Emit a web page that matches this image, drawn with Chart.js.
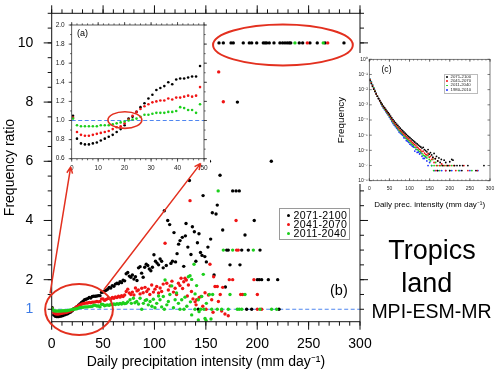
<!DOCTYPE html>
<html><head><meta charset="utf-8">
<script src="https://cdn.jsdelivr.net/npm/chart.js@4/dist/chart.umd.min.js"></script>
<style>
html,body{margin:0;padding:0;background:#fff;}
#wrap{position:relative;width:500px;height:375px;overflow:hidden;font-family:"Liberation Sans",Arial,Helvetica,sans-serif;}
canvas{position:absolute;}
.t{position:absolute;white-space:nowrap;color:#000;line-height:1;}
.lg{position:absolute;border:1px solid #9a9a9a;background:#fff;box-sizing:border-box;}
.dot{position:absolute;border-radius:50%;}
</style></head>
<body><div id="wrap">
<canvas id="cMain" width="500" height="375" style="left:0;top:0"></canvas>
<canvas id="cA" width="157" height="158" style="left:53px;top:18px"></canvas>
<canvas id="cC" width="170" height="160" style="left:330px;top:53px"></canvas>

<div class="t" style="left:77px;top:29px;font-size:9px">(a)</div>
<div class="t" style="left:381.5px;top:64.7px;font-size:8.6px">(c)</div>
<div class="t" style="left:330px;top:282.7px;font-size:14.5px">(b)</div>
<div class="t" style="left:0;width:864px;text-align:center;top:237.2px;font-size:27px">Tropics</div>
<div class="t" style="left:0;width:853.5px;text-align:center;top:270.4px;font-size:27px">land</div>
<div class="t" style="left:0;width:863px;text-align:center;top:301.8px;font-size:19.5px">MPI-ESM-MR</div>

<div class="lg" style="left:279px;top:208px;width:70.5px;height:31.5px"></div>
<div id="legB"></div>
<div class="lg" style="left:444px;top:74px;width:33.5px;height:20px;border-color:#bbb"></div>
<div id="legC"></div>

<canvas id="cOver" width="500" height="375" style="left:0;top:0;pointer-events:none"></canvas>
</div>
<script>
// ---------------- DATA ----------------
// Panel (b)/(a): frequency ratio vs daily precipitation intensity (mm/day)
const binX = [0.5,2.0,3.5,5.0,6.5,8.0,9.5,11.0,12.5,14.0,15.5,17.0,18.5,20.0,21.5,23.0,24.5,26.0,27.5,29.0,30.5,32.0,33.5,35.0,36.5,38.0,39.5,41.0,42.5,44.0,45.5,47.0,48.5];
const ratio2071 = [1.05,0.81,0.76,0.75,0.75,0.76,0.77,0.79,0.81,0.83,0.85,0.88,0.91,0.95,1.02,1.04,1.09,1.14,1.18,1.23,1.27,1.32,1.34,1.36,1.40,1.38,1.43,1.44,1.44,1.45,1.46,1.46,1.57];
const ratio2041 = [1.03,0.88,0.85,0.84,0.84,0.85,0.86,0.87,0.88,0.89,0.91,0.93,0.94,0.97,1.01,1.05,1.09,1.12,1.15,1.17,1.19,1.20,1.21,1.21,1.23,1.22,1.24,1.24,1.25,1.26,1.25,1.26,1.35];
const ratio2011 = [1.02,0.95,0.94,0.94,0.94,0.94,0.94,0.95,0.95,0.95,0.96,0.97,0.98,0.99,1.00,1.01,1.02,1.04,1.06,1.06,1.07,1.08,1.08,1.08,1.09,1.09,1.10,1.14,1.13,1.11,1.11,1.08,1.17];

const tailX2071 = [50.0,51.5,53.0,54.5,56.0,57.5,59.0,60.5,62.0,63.5,65.0,66.5,68.0,69.5,71.0,72.5,74.0,75.5,77.0,78.5,80.0,81.5,83.0,84.5,86.0,87.5,89.0,90.5,92.0,93.5,95.0,96.5,98.0,99.5,101.0,102.5,104.0,105.5,107.0,108.5,109.6,111.5,112.9,114.8,116.0,117.5,119.0,120.5,122.0,123.5,124.9,127.1,128.5,130.1,130.7,132.5,134.0,135.5,136.9,138.8,140.3,141.8,142.7,143.3,144.8,146.3,147.3,149.0,150.5,152.0,153.4,154.7,156.3,158.0,159.9,161.1,163.8,166.4,169.0,170.3,171.8,173.5,176.1,179.4,180.7,182.5,183.2,184.9,188.1,189.7,191.3,194.6,197.1,200.1,202.0,202.7,204.3,210.8,213.7,219.9,221.2];
const tailY2071 = [1.58,1.62,1.64,1.68,1.74,1.72,1.80,1.78,1.85,1.88,1.86,1.93,1.90,1.98,1.96,2.20,2.24,2.12,2.08,2.16,2.02,2.10,1.97,2.40,2.44,2.22,2.08,2.42,2.52,2.48,2.36,2.30,2.42,2.84,2.62,2.56,2.50,2.70,2.62,2.40,4.33,2.48,4.00,3.86,2.55,2.62,3.59,2.60,2.88,3.20,3.32,3.43,2.45,3.48,3.90,3.10,5.35,2.85,3.79,3.62,2.62,3.25,1.00,3.55,2.92,2.82,4.84,2.78,2.60,3.10,6.00,3.37,4.26,2.16,4.22,4.52,5.53,3.68,1.75,3.00,3.00,2.50,5.00,5.00,8.00,5.00,2.50,3.00,3.51,1.00,3.00,1.00,4.00,2.00,2.00,3.00,2.00,2.00,6.00,2.00,1.00];
const tailX2041 = [50.0,51.5,53.0,54.5,56.0,57.5,59.0,60.5,62.0,63.5,65.0,66.5,68.0,69.5,71.0,72.5,74.0,75.5,77.0,78.5,80.0,81.5,83.0,84.3,86.0,87.6,89.0,90.8,92.5,94.0,95.5,97.3,99.0,100.5,102.2,104.0,105.5,107.0,108.5,110.3,112.0,113.5,115.2,117.0,118.5,120.1,121.5,123.3,124.8,125.9,127.4,128.5,129.7,131.0,132.0,133.0,134.6,136.0,137.5,139.5,140.5,141.0,143.5,145.3,147.0,149.2,150.2,152.5,154.0,155.7,157.0,157.6,158.9,161.1,162.2,164.0,165.4,166.4,168.6,171.8,172.8,176.1,179.4,179.9,181.5,183.9,185.9,196.8,200.1,200.1,204.3,162.5,167.0];
const tailY2041 = [1.35,1.30,1.33,1.36,1.37,1.34,1.40,1.37,1.42,1.40,1.44,1.41,1.46,1.43,1.48,1.60,1.68,1.55,1.50,1.58,1.48,1.72,1.62,1.65,1.52,1.71,1.56,1.74,1.60,1.68,1.50,1.82,1.58,1.68,1.77,1.55,1.72,1.60,1.85,3.23,1.88,1.65,1.79,1.95,1.58,1.71,1.50,1.88,1.80,2.05,1.70,1.93,2.05,1.99,1.45,1.82,4.67,1.60,1.35,1.25,1.15,1.32,1.40,1.43,1.10,1.56,1.00,1.48,2.52,1.32,0.90,2.10,1.77,1.77,1.26,1.50,0.94,1.74,0.84,0.78,2.00,2.00,4.00,3.00,3.00,1.50,1.50,2.00,1.50,1.00,1.00,9.02,8.01];
const tailX2011 = [50.0,51.5,53.0,54.5,56.0,57.5,59.0,60.5,62.0,63.5,65.0,66.5,68.0,69.5,71.0,72.5,74.0,76.2,77.5,79.5,81.0,82.7,84.5,86.0,87.6,89.2,91.0,92.4,94.0,95.7,97.5,98.9,100.5,102.2,104.0,105.4,107.0,108.6,109.6,110.3,112.0,113.5,115.0,116.8,118.5,120.1,121.5,123.3,124.8,126.5,128.7,129.7,131.5,133.0,134.6,135.0,136.2,136.2,138.5,139.4,139.5,141.0,142.7,142.7,145.0,146.0,147.5,148.2,149.2,150.5,153.4,155.0,155.7,156.6,161.1,162.0,165.4,167.0,171.8,173.5,176.1,180.6,182.5,184.9,188.1,196.2,202.7,214.0,218.9,143.4,150.2];
const tailY2011 = [1.16,1.12,1.14,1.15,1.13,1.17,1.15,1.18,1.16,1.19,1.17,1.20,1.18,1.22,1.19,1.20,1.25,1.32,1.20,1.37,1.22,1.26,1.18,1.37,1.00,1.20,1.30,1.32,1.15,1.26,1.10,1.34,1.05,1.20,1.45,1.32,1.08,1.43,1.00,1.99,1.15,1.26,1.50,1.79,1.05,1.32,1.55,1.20,1.00,1.32,1.00,1.41,1.10,2.10,2.13,1.25,2.01,0.81,2.52,1.00,1.52,1.80,0.64,1.32,1.00,1.43,2.18,1.00,0.69,1.20,1.50,0.67,1.00,1.50,1.00,5.00,1.00,3.00,1.00,1.50,3.00,1.00,1.00,1.00,1.50,3.00,1.00,1.00,1.00,0.92,0.62];
// bins where the ratio is capped at 10
const capRatio = 10;
const capX2071 = [162.8,167.0,174.5,176.7,186.4,192.3,194.6,199.5,205.9,207.6,209.2,211.7,216.3,222.1,224.7,227.0,229.2,231.2,232.6,240.9,244.2,251.3,258.4,266.0,284.4];
const capX2041 = [248.7,268.6];
const capX2011 = [236.7,264.2];

// Panel (c): frequency (log10 of frequency) vs intensity
const freqX = [0,2,5,8,11,14,17,20,23,26,29,32,35,38,41,44,47,50,53,56,59,62,65,68,71,74,77,80,83,86,89,92,95,98,101,104,107,110,113,116,119,122,125,128,131,134,137,140];
const logFreq2071 = [-0.07,-1.40,-1.60,-1.79,-1.97,-2.13,-2.29,-2.44,-2.58,-2.71,-2.84,-2.96,-3.08,-3.19,-3.30,-3.41,-3.51,-3.62,-3.74,-3.86,-3.97,-4.07,-4.17,-4.27,-4.36,-4.45,-4.54,-4.63,-4.71,-4.79,-4.87,-4.95,-5.03,-5.10,-5.17,-5.24,-5.31,-5.38,-5.45,-5.52,-5.58,-5.65,-5.72,-5.78,-5.85,-5.80,-5.95,-6.02];
const logFreq2041 = [-0.07,-1.36,-1.55,-1.74,-1.93,-2.10,-2.27,-2.43,-2.59,-2.73,-2.87,-3.00,-3.13,-3.24,-3.36,-3.47,-3.57,-3.70,-3.83,-3.96,-4.08,-4.19,-4.29,-4.39,-4.49,-4.59,-4.68,-4.76,-4.85,-4.94,-5.00,-5.11,-5.18,-5.25,-5.34,-5.40,-5.49,-5.55,-5.62,-5.70,-5.79,-5.85,-5.93,-5.98,-6.08,-6.05,-6.18,-6.26];
const logFreq2011 = [-0.07,-1.33,-1.51,-1.70,-1.89,-2.07,-2.24,-2.42,-2.59,-2.75,-2.90,-3.04,-3.17,-3.29,-3.41,-3.52,-3.63,-3.76,-3.89,-4.03,-4.15,-4.26,-4.36,-4.47,-4.57,-4.69,-4.77,-4.85,-4.93,-5.06,-5.10,-5.22,-5.29,-5.37,-5.46,-5.52,-5.61,-5.67,-5.80,-5.82,-5.95,-5.98,-6.08,-6.10,-6.22,-6.32,-6.37,-6.40];
const logFreq1980 = [-0.07,-1.31,-1.48,-1.67,-1.87,-2.05,-2.23,-2.42,-2.60,-2.77,-2.93,-3.08,-3.21,-3.33,-3.46,-3.57,-3.67,-3.82,-3.95,-4.10,-4.23,-4.34,-4.44,-4.55,-4.65,-4.79,-4.86,-4.94,-5.01,-5.17,-5.19,-5.35,-5.40,-5.48,-5.59,-5.64,-5.73,-5.78,-6.05,-5.93,-6.14,-6.11,-6.24,-6.17,-6.39,-6.53,-6.53,-6.44];
const tailFX2071 = [143,146,149,152,155,158,161,164,167,170,173,176,179,182,186,190,195,200,205,208,212,218,225,232,245,285,170,200,230,265];
const tailFL2071 = [-6.10,-5.95,-6.25,-6.15,-6.30,-6.45,-6.20,-6.55,-6.40,-6.70,-6.50,-6.80,-6.60,-7.00,-6.65,-6.80,-7.00,-6.75,-6.60,-6.65,-7.00,-7.00,-7.00,-7.00,-7.00,-7.00,-7.33,-7.33,-7.33,-7.33];
const tailFX2041 = [143,146,149,152,155,158,161,164,167,170,175,180,185,192,200,210,235,166,190,215,245,268];
const tailFL2041 = [-6.30,-6.20,-6.45,-6.40,-6.60,-6.50,-6.80,-6.55,-7.00,-6.70,-7.00,-6.90,-7.00,-7.00,-7.00,-7.00,-7.00,-7.33,-7.33,-7.33,-7.33,-7.33];
const tailFX2011 = [143,146,149,152,155,158,161,165,170,178,188,196,205,160,175,200,222,255];
const tailFL2011 = [-6.50,-6.35,-6.60,-6.70,-7.00,-6.60,-7.00,-6.80,-7.00,-7.00,-7.00,-7.00,-7.00,-7.33,-7.33,-7.33,-7.33,-7.33];
const tailFX1980 = [143,146,150,155,163,170,180,190,205,225,250,270];
const tailFL1980 = [-6.70,-7.00,-6.80,-7.00,-7.33,-7.33,-7.33,-7.33,-7.33,-7.33,-7.33,-7.33];

// tick labels
const mainXTicks = [0,50,100,150,200,250,300];
const mainYTicks = [1,2,4,6,8,10];
const insetAXTicks = [0,10,20,30,40,50];
const insetAYTicks = [0.6,0.8,1.0,1.2,1.4,1.6,1.8,2.0];
const insetCXTicks = [0,50,100,150,200,250,300];
const insetCYTicks = [1e-8,1e-7,1e-6,1e-5,1e-4,1e-3,1e-2,1e-1,1];
const seriesNames = ['2071-2100','2041-2070','2011-2040','1980-2010'];

// ---------------- STYLE ----------------
const FONT = '"Liberation Sans", Arial, Helvetica, sans-serif';
const COL = {k:'#000000', r:'#f01414', g:'#1ccf1c', b:'#2233ff'};
const BLUE_LINE = '#4f86f0';
const RED_ANN = '#e3301f';

const pairs = (xs, ys) => xs.map((x,i)=>({x, y: ys[i]}));
const capPairs = xs => xs.map(x=>({x, y: capRatio}));
const logPairs = (xs, ls) => xs.map((x,i)=>({x, y: Math.pow(10, ls[i])}));
const range = (a,b,s) => { const r=[]; for (let v=a; v<=b+1e-9; v+=s) r.push(+v.toFixed(6)); return r; };
const SUP = {'0':'⁰','1':'¹','2':'²','3':'³','4':'⁴','5':'⁵','6':'⁶','7':'⁷','8':'⁸','9':'⁹','-':'⁻'};
const supText = n => String(n).split('').map(c=>SUP[c]).join('');
// fixed-size axis boxes; label overflow padding is not needed (labels sit inside)
const fixW = w => s => { s.width = w; s.paddingTop = 0; s.paddingBottom = 0; };
const fixH = h => s => { s.height = h; s.paddingLeft = 0; s.paddingRight = 0; };

function drawFrame(chart, s){
  const {ctx, chartArea:a} = chart; const xs = chart.scales.x, ys = chart.scales.y;
  ctx.save(); ctx.strokeStyle = s.color; ctx.lineWidth = s.lw;
  ctx.strokeRect(a.left, a.top, a.right-a.left, a.bottom-a.top);
  const d = s.outward ? 1 : -1;
  ctx.beginPath();
  const addX = (v,L)=>{ const p = xs.getPixelForValue(v); ctx.moveTo(p,a.bottom); ctx.lineTo(p,a.bottom+d*L); ctx.moveTo(p,a.top); ctx.lineTo(p,a.top-d*L); };
  const addY = (v,L)=>{ const p = ys.getPixelForValue(v); ctx.moveTo(a.left,p); ctx.lineTo(a.left-d*L,p); ctx.moveTo(a.right,p); ctx.lineTo(a.right+d*L,p); };
  s.xMinor.forEach(v=>addX(v,s.minLen)); s.xMajor.forEach(v=>addX(v,s.majLen));
  s.yMinor.forEach(v=>addY(v,s.minLen)); s.yMajor.forEach(v=>addY(v,s.majLen));
  ctx.stroke(); ctx.restore();
}
function hLineDashed(chart, yv){
  const {ctx, chartArea:a} = chart; const p = chart.scales.y.getPixelForValue(yv);
  ctx.save(); ctx.strokeStyle = BLUE_LINE; ctx.lineWidth = 1.2; ctx.setLineDash([4,2.5]);
  ctx.beginPath(); ctx.moveTo(a.left, p); ctx.lineTo(a.right, p); ctx.stroke(); ctx.restore();
}
const noGrid = {display:false, drawTicks:false};
const scatterDs = (label, data, color, r, order) => ({label, data, backgroundColor:color, borderColor:color, borderWidth:0, pointRadius:r, pointHoverRadius:r, order});
const baseOpts = {responsive:false, animation:false, events:[], plugins:{legend:{display:false}, tooltip:{enabled:false}}};

// ---------------- MAIN (b) ----------------
const mainChart = new Chart(document.getElementById('cMain'), {
  type:'scatter',
  data:{datasets:[
    scatterDs(seriesNames[2], pairs(binX.concat(tailX2011), ratio2011.concat(tailY2011)).concat(capPairs(capX2011)), COL.g, 1.7, 0),
    scatterDs(seriesNames[1], pairs(binX.concat(tailX2041), ratio2041.concat(tailY2041)).concat(capPairs(capX2041)), COL.r, 1.7, 1),
    scatterDs(seriesNames[0], pairs(binX.concat(tailX2071), ratio2071.concat(tailY2071)).concat(capPairs(capX2071)), COL.k, 1.7, 2)
  ]},
  options:{...baseOpts,
    layout:{padding:{top:13.3, right:140, left:0, bottom:0}},
    scales:{
      x:{type:'linear', min:0, max:300, afterFit:fixH(53.3),
        afterBuildTicks(s){ s.ticks = mainXTicks.map(v=>({value:v})); },
        ticks:{autoSkip:false, maxRotation:0, padding:14, color:'#000', font:{family:FONT,size:14}, callback:v=>String(v)},
        grid:noGrid, border:{display:false},
        title:{display:true, text:'Daily precipitation intensity (mm day⁻¹)', color:'#000', font:{family:FONT,size:14}, padding:{top:0,bottom:4.6}}},
      y:{type:'linear', min:0.58, max:11, afterFit:fixW(51.7),
        afterBuildTicks(s){ s.ticks = mainYTicks.map(v=>({value:v})); },
        ticks:{autoSkip:false, padding:18.5, font:{family:FONT,size:14}, color:c=>(c.tick && c.tick.value===1)?'#3d7be6':'#000', callback:v=>String(v)},
        grid:noGrid, border:{display:false},
        title:{display:true, text:'Frequency ratio', color:'#000', font:{family:FONT,size:14}, padding:{top:2,bottom:0}}}
    }
  },
  plugins:[{id:'mainDeco',
    beforeDatasetsDraw(c){ hLineDashed(c, 1); },
    afterDraw(c){ drawFrame(c, {color:'#111', lw:1, outward:true, majLen:8, minLen:4,
      xMajor:mainXTicks, xMinor:range(0,300,10), yMajor:[2,4,6,8,10], yMinor:range(1,11,0.5)}); }
  }]
});

// ---------------- INSET (a) ----------------
const chartA = new Chart(document.getElementById('cA'), {
  type:'scatter',
  data:{datasets:[
    scatterDs(seriesNames[2], pairs(binX, ratio2011), COL.g, 1.3, 0),
    scatterDs(seriesNames[1], pairs(binX, ratio2041), COL.r, 1.3, 1),
    scatterDs(seriesNames[0], pairs(binX, ratio2071), COL.k, 1.3, 2)
  ]},
  options:{...baseOpts,
    layout:{padding:{top:7, right:6, left:0, bottom:0}},
    scales:{
      x:{type:'linear', min:0, max:50, afterFit:fixH(17.3),
        afterBuildTicks(s){ s.ticks = insetAXTicks.map(v=>({value:v})); },
        ticks:{autoSkip:false, maxRotation:0, padding:5.5, color:'#222', font:{family:FONT,size:6.5}, callback:v=>String(v)},
        grid:noGrid, border:{display:false}},
      y:{type:'linear', min:0.6, max:2.0, afterFit:fixW(18.7),
        afterBuildTicks(s){ s.ticks = insetAYTicks.map(v=>({value:v})); },
        ticks:{autoSkip:false, padding:7, color:'#222', font:{family:FONT,size:6.5}, callback:v=>Number(v).toFixed(1)},
        grid:noGrid, border:{display:false}}
    }
  },
  plugins:[{id:'aDeco',
    beforeDraw(c){ const ctx=c.ctx; ctx.save(); ctx.fillStyle='#fff'; ctx.fillRect(0,0,c.width,c.height); ctx.restore(); },
    beforeDatasetsDraw(c){ hLineDashed(c, 1.0); },
    afterDraw(c){
      drawFrame(c, {color:'#333', lw:0.8, outward:true, majLen:3, minLen:1.6,
        xMajor:insetAXTicks, xMinor:range(0,50,2), yMajor:insetAYTicks, yMinor:range(0.6,2.0,0.1)});
      const xs=c.scales.x, ys=c.scales.y, ctx=c.ctx;
      const cx=xs.getPixelForValue(20.1), cy=ys.getPixelForValue(1.005);
      const rx=xs.getPixelForValue(26.5)-xs.getPixelForValue(20.1), ry=ys.getPixelForValue(1.005)-ys.getPixelForValue(1.092);
      ctx.save(); ctx.strokeStyle=RED_ANN; ctx.lineWidth=1.6; ctx.beginPath(); ctx.ellipse(cx,cy,rx,ry,0,0,2*Math.PI); ctx.stroke(); ctx.restore();
    }
  }]
});

// ---------------- INSET (c) ----------------
const chartC = new Chart(document.getElementById('cC'), {
  type:'scatter',
  data:{datasets:[
    scatterDs(seriesNames[0], logPairs(freqX.concat(tailFX2071), logFreq2071.concat(tailFL2071)), COL.k, 0.9, 0),
    scatterDs(seriesNames[1], logPairs(freqX.concat(tailFX2041), logFreq2041.concat(tailFL2041)), COL.r, 0.9, 1),
    scatterDs(seriesNames[2], logPairs(freqX.concat(tailFX2011), logFreq2011.concat(tailFL2011)), COL.g, 0.9, 2),
    scatterDs(seriesNames[3], logPairs(freqX.concat(tailFX1980), logFreq1980.concat(tailFL1980)), COL.b, 0.9, 3)
  ]},
  options:{...baseOpts,
    layout:{padding:{top:6.3, right:10, left:0, bottom:0}},
    scales:{
      x:{type:'linear', min:0, max:300, afterFit:fixH(32.3),
        afterBuildTicks(s){ s.ticks = insetCXTicks.map(v=>({value:v})); },
        ticks:{autoSkip:false, maxRotation:0, padding:5, color:'#222', font:{family:FONT,size:5}, callback:v=>String(v)},
        grid:noGrid, border:{display:false},
        title:{display:true, text:'Daily prec. intensity (mm day⁻¹)', color:'#000', font:{family:FONT,size:8}, padding:{top:0,bottom:3.2}}},
      y:{type:'logarithmic', min:1e-8, max:1, afterFit:fixW(39.3),
        afterBuildTicks(s){ s.ticks = insetCYTicks.map(v=>({value:v})); },
        ticks:{autoSkip:false, padding:1.5, color:'#222', font:{family:FONT,size:5}, callback:v=>'10'+supText(Math.round(Math.log10(v)))},
        grid:noGrid, border:{display:false},
        title:{display:true, text:'Frequency', color:'#000', font:{family:FONT,size:9.8}, padding:{top:5,bottom:0}}}
    }
  },
  plugins:[{id:'cDeco',
    beforeDraw(c){ const ctx=c.ctx; ctx.save(); ctx.fillStyle='#fff'; ctx.fillRect(0,0,c.width,131); ctx.restore(); },
    afterDraw(c){ drawFrame(c, {color:'#444', lw:0.7, outward:false, majLen:2.5, minLen:1.2,
      xMajor:insetCXTicks, xMinor:range(0,300,10), yMajor:insetCYTicks, yMinor:[]}); }
  }]
});

// ---------------- LEGENDS (HTML) ----------------
(function(){
  const wrap = document.getElementById('wrap');
  const cols = [COL.k, COL.r, COL.g, COL.b];
  for (let i=0;i<3;i++){
    const cy = 215.3 + i*9.2;
    const d = document.createElement('div'); d.className='dot';
    d.style.cssText = `left:${288.3-1.6}px;top:${cy-1.6}px;width:3.2px;height:3.2px;background:${cols[i]}`;
    wrap.appendChild(d);
    const t = document.createElement('div'); t.className='t';
    t.style.cssText = `left:293.5px;top:${cy-5.6}px;font-size:10.6px;letter-spacing:0.35px;`;
    t.textContent = seriesNames[i]; wrap.appendChild(t);
  }
  for (let i=0;i<4;i++){
    const cy = 76.8 + i*4.4;
    const d = document.createElement('div'); d.className='dot';
    d.style.cssText = `left:${446.7-0.9}px;top:${cy-0.9}px;width:1.8px;height:1.8px;background:${cols[i]}`;
    wrap.appendChild(d);
    const t = document.createElement('div'); t.className='t';
    t.style.cssText = `left:450.5px;top:${cy-2.2}px;font-size:4.3px;color:#222`;
    t.textContent = seriesNames[i]; wrap.appendChild(t);
  }
})();

// ---------------- ANNOTATIONS (ellipses & arrows) ----------------
(function(){
  const ctx = document.getElementById('cOver').getContext('2d');
  const xs = mainChart.scales.x, ys = mainChart.scales.y;
  const P = (x,y)=>[xs.getPixelForValue(x), ys.getPixelForValue(y)];
  ctx.strokeStyle = RED_ANN;
  function ell(cxv, cyv, rxv, ryv){
    const [cx,cy] = P(cxv,cyv); const rx = xs.getPixelForValue(cxv+rxv)-cx; const ry = cy-ys.getPixelForValue(cyv+ryv);
    ctx.lineWidth = 2; ctx.beginPath(); ctx.ellipse(cx,cy,rx,ry,0,0,2*Math.PI); ctx.stroke();
  }
  function arrow(x1v,y1v,x2v,y2v){
    const [x1,y1]=P(x1v,y1v), [x2,y2]=P(x2v,y2v);
    const ang = Math.atan2(y2-y1, x2-x1), L=7, w=0.42;
    ctx.lineWidth = 1.5; ctx.beginPath(); ctx.moveTo(x1,y1); ctx.lineTo(x2,y2);
    ctx.moveTo(x2,y2); ctx.lineTo(x2-L*Math.cos(ang-w), y2-L*Math.sin(ang-w));
    ctx.moveTo(x2,y2); ctx.lineTo(x2-L*Math.cos(ang+w), y2-L*Math.sin(ang+w));
    ctx.stroke();
  }
  ell(26.6, 0.99, 33, 0.86);
  ell(225, 9.93, 68, 0.69);
  arrow(-1.6, 1.54, 18.5, 5.81);
  arrow(50.9, 1.67, 145, 5.93);
})();
</script>
</body></html>
